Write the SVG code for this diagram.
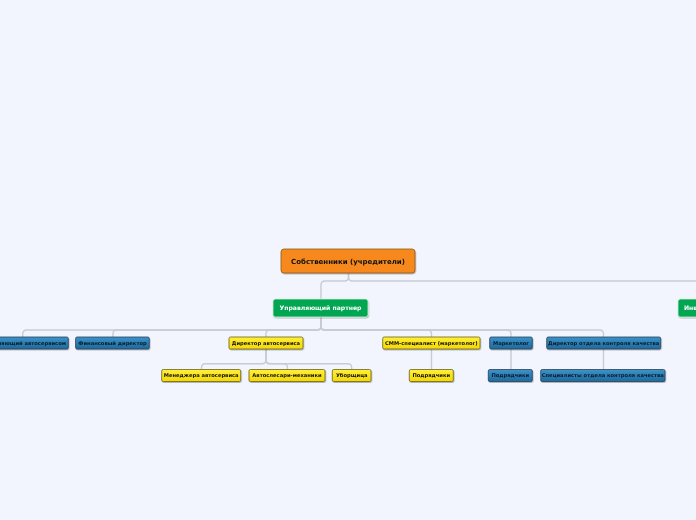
<svg xmlns="http://www.w3.org/2000/svg" width="696" height="520" viewBox="0 0 696 520">
<defs>
<linearGradient id="gBlue" x1="0" y1="0" x2="0" y2="1">
<stop offset="0" stop-color="#3d93c8"/>
<stop offset="1" stop-color="#1d6a9e"/>
</linearGradient>
<linearGradient id="gYel" x1="0" y1="0" x2="0" y2="1">
<stop offset="0" stop-color="#fff03a"/>
<stop offset="1" stop-color="#f5d800"/>
</linearGradient>
<filter id="sh" x="-10%" y="-30%" width="120%" height="180%">
<feDropShadow dx="0.6" dy="1" stdDeviation="0.6" flood-color="#000" flood-opacity="0.3"/>
</filter>
<style>
.bg{fill:#f2f5fd}
.c{fill:none;stroke:#c9cbd2;stroke-width:1.4}
.root{fill:#f7891f;stroke:#8a5a1e;stroke-width:0.8}
.green{fill:#00a651;stroke:#d0efd9;stroke-width:0.8}
.blue{fill:url(#gBlue);stroke:#27425a;stroke-width:0.8}
.yel{fill:url(#gYel);stroke:#6b6320;stroke-width:0.8}
text{font-family:"DejaVu Sans","Liberation Sans",sans-serif;font-weight:bold;text-anchor:middle}
.tr{font-size:7px;fill:#111}
.tg{font-size:6.1px;fill:#fff}
.ts{font-size:5.2px;fill:#111}
.tb{font-size:5.2px;fill:#0c1a2a}
</style>
</defs>
<rect class="bg" x="0" y="0" width="696" height="520"/>
<g id="connectors">
<path class="c" d="M348.5 273 V277 Q348.5 281 344.5 281 H325 Q321 281 321 285 V299"/>
<path class="c" d="M348.5 273 V277 Q348.5 281 352.5 281 H700"/>
<path class="c" d="M321 317 V326 Q321 330 317 330 H27 Q22.7 330 22.7 334 V337"/>
<path class="c" d="M321 317 V326 Q321 330 317 330 H117 Q113 330 113 334 V337"/>
<path class="c" d="M321 317 V326 Q321 330 317 330 H270 Q266 330 266 334 V337"/>
<path class="c" d="M321 317 V326 Q321 330 325 330 H427.5 Q431.5 330 431.5 334 V337"/>
<path class="c" d="M321 317 V326 Q321 330 325 330 H507 Q511 330 511 334 V337"/>
<path class="c" d="M321 317 V326 Q321 330 325 330 H599.5 Q603.5 330 603.5 334 V337"/>
<path class="c" d="M266 349 V359.7 Q266 363.7 262 363.7 H205.5 Q201.5 363.7 201.5 367.7 V369.5"/>
<path class="c" d="M266 349 V359.7 Q266 363.7 270 363.7 H283.5 Q287.5 363.7 287.5 367.7 V369.5"/>
<path class="c" d="M266 349 V359.7 Q266 363.7 270 363.7 H347.7 Q351.7 363.7 351.7 367.7 V369.5"/>
<path class="c" d="M431.5 349 V369.5"/>
<path class="c" d="M511 349 V369.5"/>
<path class="c" d="M603.5 349 V369.5"/>
</g>
<g id="n-root" filter="url(#sh)">
<rect class="root" x="281" y="249" width="134" height="24" rx="3"/>
<text class="tr" x="348" y="263.5">Собственники (учредители)</text>
</g>
<g id="n-partner" filter="url(#sh)">
<rect class="green" x="273" y="299" width="95" height="18" rx="2.5"/>
<text class="tg" x="320.5" y="310.2">Управляющий партнер</text>
</g>
<g id="n-investor" filter="url(#sh)">
<rect class="green" x="678" y="299" width="60" height="18" rx="2.5"/>
<text class="tg" x="684" y="310.2" style="text-anchor:start">Инвесторы</text>
</g>
<g id="n-upr-auto" filter="url(#sh)">
<rect class="blue" x="-23" y="337" width="91.3" height="12" rx="1.5"/>
<text class="tb" x="22.7" y="344.9">Управляющий автосервисом</text>
</g>
<g id="n-fin" filter="url(#sh)">
<rect class="blue" x="75.6" y="337" width="73.7" height="12" rx="1.5"/>
<text class="tb" x="112.5" y="344.9">Финансовый директор</text>
</g>
<g id="n-dir-auto" filter="url(#sh)">
<rect class="yel" x="229" y="337" width="74" height="12" rx="1.5"/>
<text class="ts" x="266" y="344.9">Директор автосервиса</text>
</g>
<g id="n-smm" filter="url(#sh)">
<rect class="yel" x="382.7" y="337" width="97.3" height="12" rx="1.5"/>
<text class="ts" x="431.3" y="344.9">СММ-специалист (маркетолог)</text>
</g>
<g id="n-market" filter="url(#sh)">
<rect class="blue" x="489.7" y="337" width="42.6" height="12" rx="1.5"/>
<text class="tb" x="511" y="344.9">Маркетолог</text>
</g>
<g id="n-dir-qc" filter="url(#sh)">
<rect class="blue" x="546.7" y="337" width="114" height="12" rx="1.5"/>
<text class="tb" x="603.7" y="344.9">Директор отдела контроля качества</text>
</g>
<g id="n-manager" filter="url(#sh)">
<rect class="yel" x="161.7" y="369.5" width="79" height="12" rx="1.5"/>
<text class="ts" x="201.2" y="377.4">Менеджера автосервиса</text>
</g>
<g id="n-mech" filter="url(#sh)">
<rect class="yel" x="249" y="369.5" width="76" height="12" rx="1.5"/>
<text class="ts" x="287" y="377.4">Автослесари-механики</text>
</g>
<g id="n-clean" filter="url(#sh)">
<rect class="yel" x="332.3" y="369.5" width="38.7" height="12" rx="1.5"/>
<text class="ts" x="351.7" y="377.4">Уборщица</text>
</g>
<g id="n-contr1" filter="url(#sh)">
<rect class="yel" x="409.3" y="369.5" width="44" height="12" rx="1.5"/>
<text class="ts" x="431.3" y="377.4">Подрядчики</text>
</g>
<g id="n-contr2" filter="url(#sh)">
<rect class="blue" x="488.3" y="369.5" width="44" height="12" rx="1.5"/>
<text class="tb" x="510.3" y="377.4">Подрядчики</text>
</g>
<g id="n-qc-spec" filter="url(#sh)">
<rect class="blue" x="540.7" y="369.5" width="124.3" height="12" rx="1.5"/>
<text class="tb" x="602.8" y="377.4">Специалисты отдела контроля качества</text>
</g>
</svg>
